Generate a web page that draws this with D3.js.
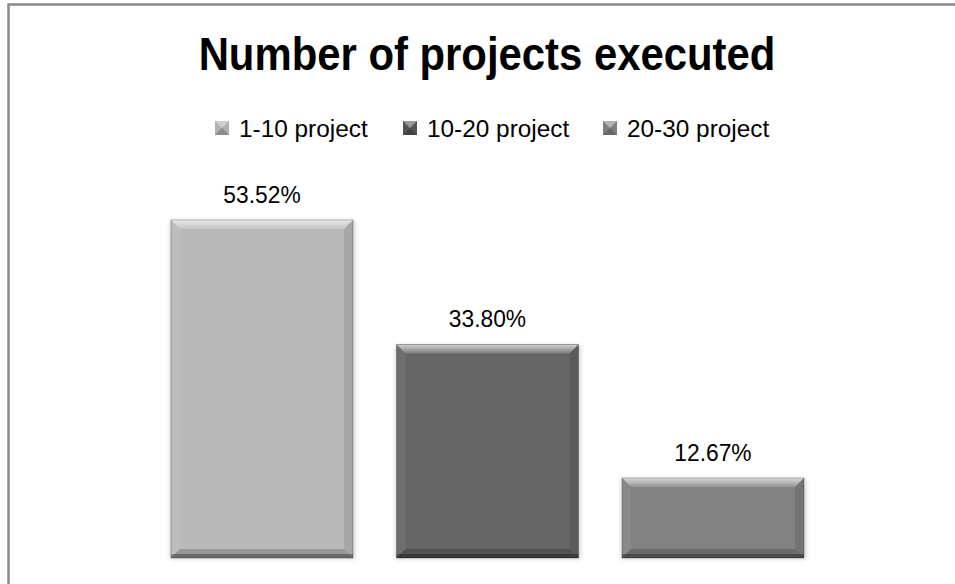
<!DOCTYPE html>
<html>
<head>
<meta charset="utf-8">
<script src="https://cdn.jsdelivr.net/npm/d3@7"></script>
<style>
  body { margin: 0; background: #fff; }
  svg { display: block; }
  text { font-family: "Liberation Sans Narrow", "Arial Narrow", "Liberation Sans", sans-serif; }
</style>
</head>
<body>
<div id="chart"></div>
<script>
  // chart data
  const categories = ["1-10 project", "10-20 project", "20-30 project"];
  const shares = [53.52, 33.80, 12.67];
  const barColors = ["#b9b9b9", "#666666", "#828282"];
  const legendColors = ["#b0b0b0", "#555555", "#808080"];

  const width = 955, height = 584;
  const svg = d3.select("#chart").append("svg")
    .attr("width", width).attr("height", height);

  // outer frame (right and bottom edges are off the page)
  svg.append("rect")
    .attr("x", 8.5).attr("y", 4.5)
    .attr("width", 1000).attr("height", 700)
    .attr("fill", "none").attr("stroke", "#8a8a8a").attr("stroke-width", 2.5);

  const x = d3.scaleBand().domain(categories)
    .range([148.25, 826.75]).paddingInner(0.193).paddingOuter(0.101);
  const y = d3.scaleLinear().domain([0, 60]).range([558, 179]);

  const defs = svg.append("defs");
  const blur = defs.append("filter").attr("id", "shadow")
    .attr("x", "-10%").attr("y", "-10%").attr("width", "120%").attr("height", "120%");
  blur.append("feGaussianBlur").attr("stdDeviation", 2);

  const topGrad = defs.append("linearGradient").attr("id", "topshine")
    .attr("x1", 0).attr("y1", 0).attr("x2", 0).attr("y2", 1);
  topGrad.append("stop").attr("offset", 0).attr("stop-color", "#fff").attr("stop-opacity", 0.7);
  topGrad.append("stop").attr("offset", 1).attr("stop-color", "#fff").attr("stop-opacity", 0.15);

  const data = categories.map((c, i) => ({ c, v: shares[i], color: barColors[i] }));

  const bars = svg.append("g").selectAll("g").data(data).join("g");

  // soft shadow
  bars.append("rect")
    .attr("x", d => x(d.c) - 1).attr("y", d => y(d.v) + 1)
    .attr("width", x.bandwidth() + 3).attr("height", d => y(0) - y(d.v))
    .attr("fill", "#000").attr("opacity", 0.18).attr("filter", "url(#shadow)");

  bars.append("rect")
    .attr("x", d => x(d.c)).attr("y", d => y(d.v))
    .attr("width", x.bandwidth()).attr("height", d => y(0) - y(d.v))
    .attr("fill", d => d.color);

  // bevel edges
  const bev = 9;
  const bevel = (d, side) => {
    const x0 = x(d.c), x1 = x0 + x.bandwidth(), y0 = y(d.v), y1 = y(0);
    const pts = {
      top: [[x0, y0], [x1, y0], [x1 - bev, y0 + bev], [x0 + bev, y0 + bev]],
      bottom: [[x0, y1], [x1, y1], [x1 - bev, y1 - bev], [x0 + bev, y1 - bev]],
      left: [[x0, y0], [x0 + bev, y0 + bev], [x0 + bev, y1 - bev], [x0, y1]],
      right: [[x1, y0], [x1 - bev, y0 + bev], [x1 - bev, y1 - bev], [x1, y1]]
    }[side];
    return "M" + pts.join("L") + "Z";
  };
  const shades = { top: ["url(#topshine)", 1], bottom: ["#000", 0.18], left: ["#fff", 0.06], right: ["#000", 0.1] };
  Object.keys(shades).forEach(side => {
    bars.append("path")
      .attr("d", d => bevel(d, side))
      .attr("fill", shades[side][0]).attr("opacity", shades[side][1]);
  });
  bars.append("rect")
    .attr("x", d => x(d.c)).attr("y", d => y(d.v))
    .attr("width", x.bandwidth()).attr("height", d => y(0) - y(d.v))
    .attr("fill", "none").attr("stroke", "#000").attr("stroke-opacity", 0.25).attr("stroke-width", 1);
  bars.append("rect")
    .attr("x", d => x(d.c)).attr("y", d => y(0) - 4)
    .attr("width", x.bandwidth()).attr("height", 4)
    .attr("fill", "#000").attr("opacity", 0.3);

  // value labels
  bars.append("text")
    .attr("transform", d => `translate(${x(d.c) + x.bandwidth() / 2},${y(d.v) - 17}) scale(0.95,1)`)
    .attr("text-anchor", "middle")
    .attr("font-size", 24)
    .attr("fill", "#000")
    .text(d => d.v.toFixed(2) + "%");

  // title
  svg.append("text")
    .attr("transform", "translate(487,70) scale(0.91,1)")
    .attr("text-anchor", "middle")
    .attr("font-size", 46).attr("font-weight", "bold")
    .text("Number of projects executed");

  // legend
  const legendX = [215, 403, 603];
  const legend = svg.append("g").selectAll("g").data(categories).join("g")
    .attr("transform", (d, i) => `translate(${legendX[i]},121)`);
  legend.append("rect")
    .attr("width", 14).attr("height", 14)
    .attr("fill", (d, i) => legendColors[i]);
  legend.append("path")
    .attr("d", "M0,0L14,0L7,7Z").attr("fill", "#fff").attr("opacity", 0.4);
  legend.append("path")
    .attr("d", "M0,14L14,14L7,7Z").attr("fill", "#000").attr("opacity", 0.2);
  legend.append("text")
    .attr("transform", "translate(24,16) scale(1.06,1)")
    .attr("font-size", 23)
    .text(d => d);
</script>
</body>
</html>
